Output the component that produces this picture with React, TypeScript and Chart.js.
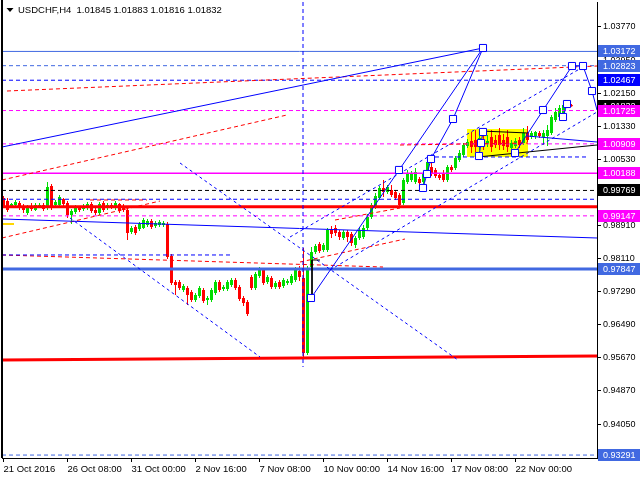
import React, { useEffect, useRef } from 'react';
import { Chart, registerables } from 'chart.js';
Chart.register(...registerables);

const FONT = '"Liberation Sans", Arial, sans-serif';
const TITLE = 'USDCHF,H4  1.01845 1.01883 1.01816 1.01832';

const X_MIN = -0.375;
const X_MAX = 148.375;
const Y_MIN = 0.93219;
const Y_MAX = 1.04382;
const X_TICKS = [0, 16, 32, 48, 64, 80, 96, 112, 128];
const X_TICK_LABELS = ['21 Oct 2016', '26 Oct 08:00', '31 Oct 00:00', '2 Nov 16:00', '7 Nov 08:00', '10 Nov 00:00', '14 Nov 16:00', '17 Nov 08:00', '22 Nov 00:00'];
const Y_TICKS = [1.0377, 1.0295, 1.0215, 1.0133, 1.0053, 0.9891, 0.9811, 0.9729, 0.9649, 0.9567, 0.9487, 0.9405];

const OPEN = [0.99584,0.99510,0.99388,0.99413,0.99461,0.99388,0.99217,0.99364,0.99290,0.99364,0.99413,0.99339,0.99878,0.99413,0.99413,0.99559,0.99461,0.99168,0.99241,0.99364,0.99315,0.99339,0.99437,0.99290,0.99217,0.99461,0.99339,0.99413,0.99339,0.99437,0.99388,0.99290,0.98752,0.98874,0.98825,0.98850,0.98923,0.99021,0.98899,0.98923,0.98923,0.98948,0.98164,0.97528,0.97528,0.97332,0.97381,0.97283,0.97087,0.97185,0.97332,0.97087,0.97087,0.97258,0.97528,0.97356,0.97356,0.97454,0.97577,0.97405,0.97136,0.97038,0.97650,0.97381,0.97674,0.97821,0.97528,0.97625,0.97405,0.97528,0.97430,0.97503,0.97503,0.97577,0.97797,0.97625,0.95789,0.97895,0.98262,0.98458,0.98311,0.98311,0.98801,0.98850,0.98752,0.98605,0.98752,0.98703,0.98433,0.98605,0.98629,0.98850,0.99119,0.99364,0.99584,0.99829,0.99731,0.99780,0.99731,0.99657,0.99461,0.99976,1.00025,0.99976,1.00049,0.99976,1.00196,1.00343,1.00269,1.00147,1.00196,1.00025,1.00343,1.00318,1.00514,1.00637,1.00857,1.00979,1.01004,1.00881,1.00955,1.00906,1.01077,1.01004,1.01126,1.01004,1.01077,1.00808,1.00857,1.01004,1.00930,1.01175,1.01077,1.01102,1.01175,1.01077,1.01102,1.01175,1.01493,1.01567,1.01665,1.01836,1.01845];
const HIGH = [0.99633,0.99584,0.99461,0.99535,0.99510,0.99437,0.99413,0.99461,0.99461,0.99461,0.99461,0.99976,0.99927,0.99535,0.99657,0.99584,0.99510,0.99315,0.99413,0.99388,0.99437,0.99486,0.99486,0.99339,0.99486,0.99510,0.99461,0.99461,0.99510,0.99461,0.99437,0.99339,0.98899,0.98923,0.98996,0.99094,0.99070,0.99070,0.99021,0.99045,0.99021,0.98996,0.98213,0.97577,0.97577,0.97479,0.97430,0.97332,0.97258,0.97430,0.97381,0.97185,0.97381,0.97577,0.97577,0.97454,0.97577,0.97625,0.97625,0.97454,0.97185,0.97087,0.97699,0.97772,0.97895,0.97870,0.97699,0.97674,0.97552,0.97577,0.97625,0.97601,0.97723,0.97895,0.97919,0.98360,0.97919,0.98385,0.98458,0.98507,0.98482,0.98850,0.98899,0.98923,0.98801,0.98801,0.98801,0.98752,0.98654,0.98850,0.98923,0.99192,0.99461,0.99706,0.99878,1.00025,0.99902,0.99902,0.99780,0.99706,1.00074,1.00269,1.00245,1.00318,1.00098,1.00245,1.00563,1.00465,1.00318,1.00196,1.00269,1.00392,1.00392,1.00612,1.00759,1.00930,1.01028,1.01200,1.01249,1.01249,1.01126,1.01126,1.01249,1.01126,1.01297,1.01151,1.01249,1.01004,1.01053,1.01077,1.01297,1.01346,1.01224,1.01224,1.01224,1.01249,1.01371,1.01616,1.01787,1.01861,1.01910,1.01934,1.01883];
const LOW = [0.99339,0.99241,0.99364,0.99388,0.99290,0.99217,0.99168,0.99266,0.99266,0.99339,0.99266,0.99290,0.99290,0.99364,0.99388,0.99388,0.99094,0.98948,0.99192,0.99241,0.99266,0.99290,0.99217,0.99168,0.99168,0.99241,0.99290,0.99315,0.99290,0.99217,0.99241,0.98556,0.98703,0.98678,0.98776,0.98825,0.98874,0.98825,0.98850,0.98874,0.98874,0.98091,0.97454,0.97209,0.97332,0.97283,0.96964,0.97038,0.97038,0.97136,0.97013,0.96964,0.97038,0.97209,0.97283,0.97307,0.97307,0.97405,0.97332,0.97062,0.96940,0.96695,0.97332,0.97332,0.97625,0.97454,0.97479,0.97356,0.97356,0.97356,0.97381,0.97454,0.97454,0.97528,0.97552,0.95692,0.95740,0.97821,0.98213,0.98237,0.98262,0.98262,0.98605,0.98654,0.98556,0.98556,0.98507,0.98409,0.98360,0.98556,0.98580,0.98801,0.99070,0.99315,0.99535,0.99608,0.99682,0.99608,0.99535,0.99339,0.99413,0.99927,0.99976,0.99927,0.99878,0.99902,1.00147,1.00123,1.00074,1.00025,0.99976,0.99976,1.00220,1.00269,1.00465,1.00588,1.00808,1.00686,1.00710,1.00759,1.00759,1.00832,1.00710,1.00808,1.00759,1.00759,1.00710,1.00759,1.00808,1.00808,1.00881,1.00955,1.01028,1.01028,1.01053,1.00881,1.00857,1.01126,1.01444,1.01518,1.01616,1.01787,1.01816];
const CLOSE = [0.99388,0.99290,0.99437,0.99486,0.99339,0.99290,0.99364,0.99315,0.99413,0.99413,0.99315,0.99853,0.99339,0.99486,0.99608,0.99437,0.99168,0.99266,0.99364,0.99290,0.99388,0.99437,0.99266,0.99217,0.99437,0.99290,0.99413,0.99364,0.99461,0.99266,0.99290,0.98727,0.98850,0.98727,0.98948,0.99045,0.99021,0.98874,0.98972,0.98996,0.98972,0.98140,0.97503,0.97454,0.97381,0.97430,0.97209,0.97087,0.97209,0.97381,0.97062,0.97136,0.97332,0.97528,0.97332,0.97405,0.97528,0.97577,0.97381,0.97111,0.97013,0.96744,0.97381,0.97723,0.97821,0.97503,0.97650,0.97405,0.97503,0.97405,0.97577,0.97552,0.97674,0.97821,0.97650,0.95789,0.97870,0.98262,0.98409,0.98287,0.98433,0.98801,0.98703,0.98727,0.98629,0.98752,0.98629,0.98482,0.98605,0.98801,0.98850,0.99119,0.99413,0.99633,0.99829,0.99731,0.99853,0.99657,0.99584,0.99413,1.00025,1.00196,1.00196,1.00220,0.99951,1.00196,1.00465,1.00196,1.00123,1.00074,1.00025,1.00343,1.00269,1.00563,1.00686,1.00881,1.00955,1.00832,1.00832,1.01053,1.00857,1.00979,1.00832,1.00881,1.00881,1.00857,1.00832,1.00930,1.00979,1.00881,1.01175,1.01004,1.01175,1.01200,1.01102,1.01175,1.01249,1.01567,1.01689,1.01787,1.01861,1.01910,1.01832];

// horizontal levels
const LEVEL_PRICES = [1.03172, 1.02823, 1.02467, 1.01725, 1.00909, 1.00188, 0.99769, 0.99553, 0.99371, 0.99147, 0.97847, 0.93291];
const LEVEL_KINDS = ['royal', 'royalDash', 'blueDash', 'magDash', 'magDash', 'mag', 'blackDash', 'blueDash', 'redThick', 'magDash', 'royalThick', 'royalDash'];

// price tags on the axis
const TAG_PRICES = [1.03172, 1.02823, 1.02467, 1.01832, 1.01725, 1.00909, 1.00188, 0.99769, 0.99147, 0.97847, 0.93291];
const TAG_KINDS = ['royal', 'royal', 'blue', 'black', 'mag', 'mag', 'mag', 'black', 'mag', 'royal', 'royal'];

// trend lines [bar index, price]
const L_LONG = [[-0.375, 1.00832], [119.875, 1.03256]];
const L_IMPULSE = [[76.875, 0.97136], [119.875, 1.03256]];
const L_ZIGZAG_A = [[104.875, 0.99829], [105.875, 1.00172], [106.875, 1.00539], [112.375, 1.01518], [119.875, 1.03256]];
const L_ZIGZAG_B = [[118.875, 1.00612], [119.375, 1.00930], [119.875, 1.01200]];
const L_RISE = [[127.875, 1.00686], [142.125, 1.02815]];
const L_TOP = [[142.125, 1.02815], [144.875, 1.02815], [147.125, 1.02203], [148.375, 1.01738]];
const L_SHORT = [[139.875, 1.01567], [140.875, 1.01885]];
const L_STEP = [[-0.375, 0.99070], [148.375, 0.98605]];
const L_RANGE_BLUE = [[130.875, 1.01102], [148.375, 1.00955]];
const K_RANGE_TOP = [[119.375, 1.01224], [131.125, 1.01175]];
const K_RANGE_BOTTOM = [[118.625, 1.00588], [148.375, 1.00881]];
const K_BRACKET = [[79.125, 0.98066], [77.125, 0.98066], [77.125, 0.97160]];
const D_UP_1 = [[71.625, 0.98629], [144.875, 1.02791]];
const D_UP_2 = [[81.625, 0.97821], [148.375, 1.01689]];
const D_DOWN_1 = [[44.125, 1.00441], [113.625, 0.95618]];
const D_DOWN_2 = [[16.625, 0.99094], [64.125, 0.95692]];
const D_FLAT_1 = [[106.125, 1.00588], [146.125, 1.00588]];
const D_FLAT_2 = [[-0.375, 0.98189], [57.125, 0.98189]];
const V_LINE = [[74.875, 1.04382], [74.875, 0.95447]];
const R_1 = [[0.875, 1.02203], [148.375, 1.02815]];
const R_2 = [[-0.375, 1.00025], [70.875, 1.01616]];
const R_3 = [[-0.375, 0.98605], [39.125, 0.99510]];
const R_4 = [[21.625, 0.99535], [35.875, 0.99535]];
const R_5 = [[74.125, 0.98017], [100.375, 0.98580]];
const R_6 = [[82.875, 0.99045], [99.125, 0.99339]];
const R_7 = [[99.125, 1.00881], [131.125, 1.00930]];
const R_8 = [[-0.375, 0.98189], [94.875, 0.97895]];
const R_BASE = [[-0.375, 0.95618], [148.375, 0.95716]];
const Y_MARK = [[-0.375, 0.98948], [2.625, 0.98948]];
const RECT_X = [115.875, 131.125];
const RECT_Y = [1.00588, 1.01273];
const NODES = [[119.875, 1.03256], [112.375, 1.01518], [106.875, 1.00539], [105.875, 1.00172], [104.875, 0.99829], [98.875, 1.00270], [76.875, 0.97136], [118.875, 1.00612], [119.375, 1.00930], [119.875, 1.01200], [127.875, 1.00686], [134.875, 1.01738], [139.875, 1.01567], [140.875, 1.01885], [142.125, 1.02815], [144.875, 1.02815], [147.125, 1.02203]];

const COL: Record<string, string> = {
  royal: '#4169E1', blue: '#0000FF', mag: '#FF00FF', black: '#000000', red: '#FF0000',
};
const KIND_STYLE: Record<string, { c: string; w: number; d: number[] }> = {
  royal: { c: COL.royal, w: 1, d: [] },
  royalDash: { c: COL.royal, w: 1, d: [4, 3] },
  royalThick: { c: COL.royal, w: 3, d: [] },
  blueDash: { c: COL.blue, w: 1, d: [4, 3] },
  blue: { c: COL.blue, w: 1, d: [] },
  blueDot: { c: COL.blue, w: 1, d: [3, 3] },
  magDash: { c: COL.mag, w: 1, d: [4, 3] },
  mag: { c: COL.mag, w: 1.5, d: [] },
  blackDash: { c: COL.black, w: 1, d: [4, 3] },
  black: { c: COL.black, w: 1, d: [] },
  redThick: { c: COL.red, w: 3, d: [] },
  redDash: { c: COL.red, w: 1, d: [4, 3] },
  yellow: { c: '#FFD700', w: 2, d: [] },
};

function lineDs(points: number[][], kind: string, order = 20) {
  const s = KIND_STYLE[kind];
  return {
    type: 'line' as const,
    data: points.map(([x, y]) => ({ x, y })),
    borderColor: s.c,
    borderWidth: s.w,
    borderDash: s.d,
    pointRadius: 0,
    pointHoverRadius: 0,
    tension: 0,
    fill: false,
    order,
  };
}

const overlay = {
  id: 'overlay',
  afterDraw(chart: any) {
    const { ctx, chartArea, scales } = chart;
    ctx.save();
    ctx.fillStyle = '#000';
    ctx.fillRect(1, 0, 2, chartArea.bottom);
    ctx.font = `9px ${FONT}`;
    ctx.textBaseline = 'middle';
    ctx.textAlign = 'left';
    TAG_PRICES.forEach((p, k) => {
      const y = Math.round(scales.y.getPixelForValue(p));
      ctx.fillStyle = COL[TAG_KINDS[k]];
      ctx.fillRect(chartArea.right + 1, y - 6, 43, 12);
      ctx.fillStyle = '#FFFFFF';
      ctx.fillText(p.toFixed(5), chartArea.right + 6, y + 0.5);
    });
    ctx.fillStyle = '#000';
    ctx.beginPath();
    ctx.moveTo(6.5, 8);
    ctx.lineTo(13.5, 8);
    ctx.lineTo(10, 12);
    ctx.closePath();
    ctx.fill();
    ctx.font = `9.5px ${FONT}`;
    ctx.fillText(TITLE, 18, 10.5);
    ctx.restore();
  },
};

export default function App() {
  const ref = useRef<HTMLCanvasElement>(null);
  useEffect(() => {
    const idx = OPEN.map((_, i) => i);
    const colors = idx.map((i) => (CLOSE[i] >= OPEN[i] ? '#00DD00' : '#FF0000'));
    const wick = idx.map((i) => ({ x: i, y: [LOW[i], HIGH[i]] }));
    const body = idx.map((i) => ({ x: i, y: [Math.min(OPEN[i], CLOSE[i]), Math.max(OPEN[i], CLOSE[i])] }));

    const datasets: any[] = [];
    datasets.push({
      type: 'line', data: [{ x: RECT_X[0], y: RECT_Y[1] }, { x: RECT_X[1], y: RECT_Y[1] }],
      borderWidth: 0, pointRadius: 0, fill: '+1', backgroundColor: '#FFFF00', order: 100,
    });
    datasets.push({
      type: 'line', data: [{ x: RECT_X[0], y: RECT_Y[0] }, { x: RECT_X[1], y: RECT_Y[0] }],
      borderWidth: 0, pointRadius: 0, fill: false, order: 100,
    });
    datasets.push({
      type: 'bar', data: wick, backgroundColor: colors, barThickness: 1, grouped: false,
      borderWidth: 0, inflateAmount: 0, minBarLength: 1, order: 60,
    });
    datasets.push({
      type: 'bar', data: body, backgroundColor: colors, barThickness: 3, grouped: false,
      borderWidth: 0, inflateAmount: 0, minBarLength: 1, order: 59,
    });
    LEVEL_PRICES.forEach((p, k) => {
      datasets.push(lineDs([[X_MIN, p], [X_MAX, p]], LEVEL_KINDS[k], 30));
    });
    [R_1, R_2, R_3, R_4, R_5, R_6, R_7, R_8].forEach((l) => datasets.push(lineDs(l, 'redDash', 25)));
    datasets.push(lineDs(R_BASE, 'redThick', 25));
    [D_UP_1, D_UP_2, D_DOWN_1, D_DOWN_2].forEach((l) => datasets.push(lineDs(l, 'blueDot', 22)));
    [D_FLAT_1, D_FLAT_2, V_LINE].forEach((l) => datasets.push(lineDs(l, 'blueDash', 22)));
    [L_LONG, L_IMPULSE, L_ZIGZAG_A, L_ZIGZAG_B, L_RISE, L_TOP, L_SHORT, L_STEP, L_RANGE_BLUE].forEach((l) =>
      datasets.push(lineDs(l, 'blue', 15)));
    [K_RANGE_TOP, K_RANGE_BOTTOM, K_BRACKET].forEach((l) => datasets.push(lineDs(l, 'black', 15)));
    datasets.push(lineDs(Y_MARK, 'yellow', 15));
    datasets.push({
      type: 'line', data: NODES.map(([x, y]) => ({ x, y })), showLine: false,
      pointStyle: 'rect', pointRadius: 5, pointHoverRadius: 5, pointBackgroundColor: '#FFFFFF',
      pointBorderColor: '#0000FF', pointBorderWidth: 1, order: 0,
    });

    const axisCommon = {
      grid: { display: true, drawOnChartArea: false, drawTicks: true, tickLength: 4, color: '#000', offset: false },
      border: { display: true, color: '#000', width: 1 },
    };

    const chart = new Chart(ref.current as HTMLCanvasElement, {
      type: 'bar',
      data: { datasets },
      plugins: [overlay],
      options: {
        animation: false,
        responsive: false,
        devicePixelRatio: 1,
        events: [],
        layout: { autoPadding: false, padding: { left: 2, top: 2, right: 0, bottom: 0 } },
        plugins: { legend: { display: false }, tooltip: { enabled: false }, title: { display: false } },
        scales: {
          x: {
            type: 'linear', min: X_MIN, max: X_MAX, offset: false, ...axisCommon,
            ticks: {
              autoSkip: false, maxRotation: 0, minRotation: 0, align: 'start', padding: 2, color: '#000',
              font: { family: FONT, size: 9.5 },
              callback: (v: any) => {
                const k = X_TICKS.indexOf(Number(v));
                return k >= 0 ? X_TICK_LABELS[k] : '';
              },
            },
            afterBuildTicks: (s: any) => { s.ticks = X_TICKS.map((v) => ({ value: v })); },
            afterFit: (s: any) => { s.height = 22; s.paddingLeft = 0; s.paddingRight = 0; },
          },
          y: {
            type: 'linear', position: 'right', min: Y_MIN, max: Y_MAX, ...axisCommon,
            ticks: {
              padding: 2, color: '#000', font: { family: FONT, size: 9 },
              callback: (v: any) => Number(v).toFixed(5),
            },
            afterBuildTicks: (s: any) => { s.ticks = Y_TICKS.map((v) => ({ value: v })); },
            afterFit: (s: any) => { s.width = 43; s.paddingTop = 0; s.paddingBottom = 0; },
          },
        },
      } as any,
    });
    return () => chart.destroy();
  }, []);
  return (
    <div style={{ position: 'fixed', left: 0, top: 0, width: 640, height: 480, background: '#fff' }}>
      <canvas ref={ref} width={640} height={480} style={{ display: 'block', width: 640, height: 480 }} />
    </div>
  );
}
